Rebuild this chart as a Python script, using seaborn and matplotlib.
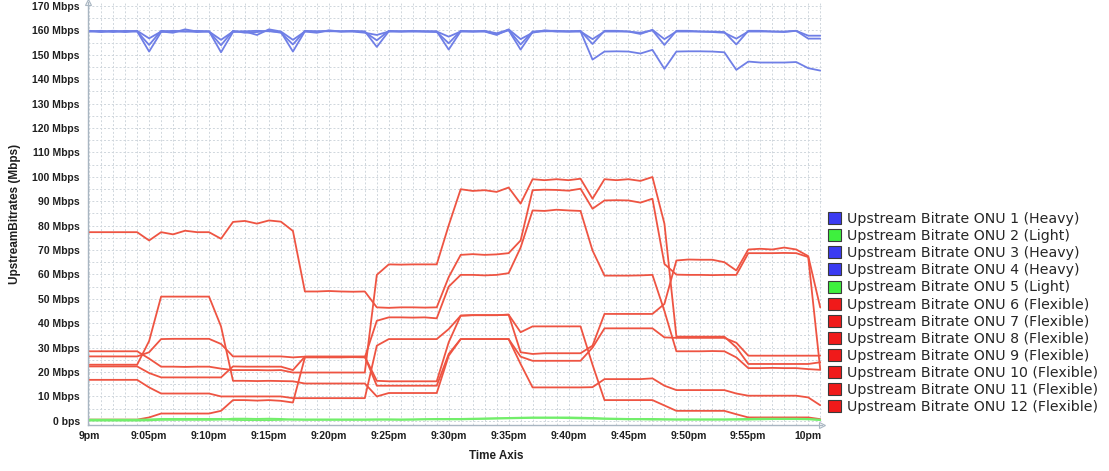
import numpy as np
import pandas as pd
import matplotlib
matplotlib.use("Agg")
import matplotlib.pyplot as plt
from matplotlib.patches import Patch
from matplotlib.ticker import MultipleLocator
import seaborn as sns


# ── data: one sample per minute after 9pm ─────────────────────────────────────

minutes = list(range(62))

tick_minutes = [0, 5, 10, 15, 20, 25, 30, 35, 40, 45, 50, 55, 60]
tick_labels = ["9pm", "9:05pm", "9:10pm", "9:15pm", "9:20pm", "9:25pm", "9:30pm",
               "9:35pm", "9:40pm", "9:45pm", "9:50pm", "9:55pm", "10pm"]

# Heavy ONUs
onu1 = [159.8, 159.5, 159.8, 159.5, 159.8, 156.7, 159.5, 159.0, 160.4, 159.5,
        159.5, 156.1, 159.5, 159.5, 158.1, 160.4, 159.5, 156.1, 159.5, 159.0,
        160.0, 159.5, 159.5, 159.0, 158.1, 159.5, 159.5, 159.5, 159.5, 159.5,
        157.4, 159.5, 159.5, 159.5, 158.1, 160.4, 156.4, 159.0, 160.0, 159.5,
        159.5, 159.5, 156.4, 159.5, 159.5, 159.5, 158.5, 160.2, 156.4, 159.5,
        159.5, 159.5, 159.3, 159.0, 156.6, 159.5, 159.5, 159.5, 159.3, 159.8,
        157.8, 157.8]
onu3 = [159.5, 159.8, 159.3, 159.8, 159.5, 154.0, 159.8, 159.5, 159.5, 159.8,
        159.5, 153.9, 159.8, 159.0, 159.3, 159.8, 159.0, 154.2, 159.8, 159.5,
        159.8, 159.5, 159.8, 159.3, 155.9, 159.8, 159.5, 159.8, 159.5, 159.3,
        154.7, 159.8, 159.5, 159.8, 158.8, 160.2, 154.2, 159.5, 159.8, 159.8,
        159.5, 159.8, 154.4, 159.8, 159.8, 159.5, 159.0, 160.0, 154.0, 159.8,
        159.8, 159.5, 159.5, 159.3, 154.2, 159.8, 159.8, 159.5, 159.5, 159.8,
        156.6, 156.6]
onu4 = [159.6, 159.3, 159.6, 159.3, 159.6, 151.3, 159.3, 159.8, 159.6, 159.3,
        159.6, 151.0, 159.3, 159.6, 159.8, 159.6, 159.3, 151.3, 159.6, 159.6,
        159.6, 159.6, 159.6, 159.6, 153.2, 159.6, 159.6, 159.6, 159.6, 159.6,
        152.1, 159.6, 159.6, 159.6, 158.4, 160.0, 152.1, 159.3, 159.6, 159.6,
        159.6, 159.6, 148.0, 151.3, 151.4, 151.3, 150.5, 152.0, 144.2, 151.3,
        151.4, 151.4, 151.3, 151.0, 143.8, 147.2, 146.8, 146.8, 146.8, 147.0,
        144.5, 143.5]

# Light ONUs
onu2 = [0.5, 0.5, 0.5, 0.5, 0.5, 0.6, 0.8, 0.8, 0.8, 0.8,
        0.8, 0.8, 0.4, 0.3, 0.3, 0.3, 0.4, 0.6, 0.6, 0.6,
        0.6, 0.6, 0.6, 0.6, 0.6, 0.6, 0.6, 0.6, 0.7, 0.8,
        0.8, 0.8, 0.9, 1.0, 1.1, 1.2, 1.3, 1.4, 1.4, 1.4,
        1.4, 1.3, 1.2, 1.0, 0.9, 0.8, 0.8, 0.8, 0.7, 0.6,
        0.6, 0.6, 0.6, 0.6, 0.7, 0.8, 0.9, 0.9, 0.9, 0.9,
        0.8, 0.5]
onu5 = [0.1, 0.1, 0.1, 0.1, 0.1, 0.2, 0.4, 0.4, 0.4, 0.4,
        0.4, 0.5, 0.9, 0.9, 0.8, 0.9, 0.8, 0.5, 0.4, 0.4,
        0.4, 0.4, 0.4, 0.4, 0.5, 0.5, 0.4, 0.5, 0.6, 0.6,
        0.6, 0.6, 0.7, 0.8, 0.9, 1.0, 1.1, 1.2, 1.2, 1.2,
        1.1, 1.0, 0.9, 0.8, 0.7, 0.6, 0.6, 0.5, 0.5, 0.5,
        0.5, 0.5, 0.5, 0.5, 0.5, 0.5, 0.6, 0.7, 0.7, 0.7,
        0.6, 0.3]

# Flexible ONUs
onu6 = [0.5, 0.5, 0.5, 0.5, 0.5, 1.4, 3.0, 3.0, 3.0, 3.0,
        3.0, 4.1, 8.5, 8.5, 8.3, 8.5, 8.2, 7.5, 26.0, 26.0,
        26.0, 26.0, 26.1, 26.0, 41.0, 42.4, 42.4, 42.3, 42.4, 42.0,
        55.0, 59.8, 59.8, 59.6, 59.8, 60.5, 71.0, 86.2, 86.0, 86.5,
        86.2, 86.0, 69.8, 59.5, 59.5, 59.5, 59.6, 59.8, 45.0, 28.5,
        28.5, 28.5, 28.6, 28.5, 26.0, 21.6, 21.6, 21.7, 21.6, 21.6,
        21.2, 20.9]
onu7 = [77.3, 77.3, 77.3, 77.3, 77.3, 73.9, 77.3, 76.4, 77.9, 77.3,
        77.3, 74.6, 81.5, 81.9, 80.8, 82.1, 81.6, 77.8, 53.0, 53.0,
        53.2, 53.0, 52.9, 53.0, 46.5, 46.3, 46.5, 46.5, 46.4, 46.5,
        58.9, 68.0, 68.3, 68.0, 68.2, 68.7, 73.9, 94.5, 94.7, 94.6,
        94.3, 95.1, 86.9, 90.3, 90.4, 90.3, 89.4, 91.0, 64.3, 59.9,
        59.8, 59.8, 59.7, 59.8, 59.8, 68.7, 68.7, 68.7, 68.8, 68.7,
        67.1, 21.2]
onu8 = [28.5, 28.5, 28.5, 28.5, 28.5, 25.5, 22.2, 22.2, 22.1, 22.2,
        22.2, 21.4, 20.8, 20.8, 20.8, 20.7, 20.8, 19.8, 19.8, 19.8,
        19.8, 19.8, 19.8, 19.8, 59.8, 64.1, 64.0, 64.1, 64.1, 64.1,
        80.1, 94.9, 94.2, 94.5, 93.8, 95.6, 89.0, 99.0, 98.6, 99.0,
        98.6, 99.2, 91.0, 99.0, 98.6, 99.0, 98.3, 99.9, 80.8, 34.5,
        34.5, 34.5, 34.5, 34.5, 30.1, 23.3, 23.3, 23.3, 23.3, 23.3,
        23.3, 24.0]
onu9 = [22.3, 22.3, 22.3, 22.3, 22.3, 19.6, 17.8, 17.8, 17.8, 17.8,
        17.8, 17.8, 22.3, 22.2, 22.2, 22.2, 22.2, 20.8, 26.3, 26.3,
        26.3, 26.3, 26.3, 26.3, 14.4, 14.4, 14.4, 14.4, 14.4, 14.4,
        27.4, 33.5, 33.5, 33.5, 33.5, 33.5, 26.3, 24.6, 24.6, 24.6,
        24.6, 24.6, 30.0, 37.9, 37.9, 37.9, 37.9, 37.9, 34.2, 34.0,
        34.0, 34.0, 34.0, 34.0, 32.0, 26.7, 26.7, 26.7, 26.7, 26.7,
        26.7, 26.7]
onu10 = [23.0, 23.0, 23.0, 23.0, 23.0, 32.7, 50.9, 50.9, 50.9, 50.9,
         50.9, 38.7, 16.4, 16.4, 16.3, 16.4, 16.3, 16.2, 15.3, 15.3,
         15.3, 15.3, 15.3, 15.3, 10.0, 11.4, 11.4, 11.4, 11.4, 11.4,
         26.7, 33.5, 33.5, 33.5, 33.5, 33.5, 23.3, 13.7, 13.7, 13.7,
         13.7, 13.7, 13.8, 17.1, 17.1, 17.1, 17.1, 17.4, 14.4, 12.6,
         12.6, 12.6, 12.6, 12.6, 11.2, 10.3, 10.3, 10.3, 10.3, 10.3,
         9.6, 6.4]
onu11 = [26.4, 26.4, 26.4, 26.4, 26.4, 28.1, 33.5, 33.6, 33.6, 33.6,
         33.6, 31.5, 26.4, 26.4, 26.4, 26.4, 26.4, 26.0, 26.3, 26.3,
         26.3, 26.3, 26.3, 26.3, 16.4, 16.2, 16.2, 16.2, 16.2, 16.2,
         32.2, 43.1, 43.3, 43.3, 43.3, 43.5, 28.1, 27.4, 27.7, 27.7,
         27.7, 27.7, 30.8, 43.8, 43.8, 43.8, 43.8, 43.8, 47.9, 65.7,
         66.1, 66.0, 66.0, 65.0, 61.6, 70.2, 70.5, 70.2, 71.0, 70.2,
         67.5, 46.5]
onu12 = [16.8, 16.8, 16.8, 16.8, 16.8, 13.7, 11.2, 11.2, 11.2, 11.2,
         11.2, 10.0, 10.0, 10.0, 10.0, 10.0, 10.0, 9.3, 9.3, 9.3,
         9.3, 9.3, 9.3, 9.3, 30.8, 33.5, 33.5, 33.5, 33.5, 33.5,
         37.6, 43.1, 43.3, 43.3, 43.3, 43.5, 36.3, 38.7, 38.7, 38.7,
         38.7, 38.7, 23.0, 8.5, 8.5, 8.5, 8.5, 8.5, 6.3, 4.1,
         4.1, 4.1, 4.1, 4.1, 2.7, 1.4, 1.4, 1.4, 1.4, 1.4,
         1.4, 0.7]

onu_names = ["Upstream Bitrate ONU 1 (Heavy)", "Upstream Bitrate ONU 2 (Light)",
             "Upstream Bitrate ONU 3 (Heavy)", "Upstream Bitrate ONU 4 (Heavy)",
             "Upstream Bitrate ONU 5 (Light)", "Upstream Bitrate ONU 6 (Flexible)",
             "Upstream Bitrate ONU 7 (Flexible)", "Upstream Bitrate ONU 8 (Flexible)",
             "Upstream Bitrate ONU 9 (Flexible)", "Upstream Bitrate ONU 10 (Flexible)",
             "Upstream Bitrate ONU 11 (Flexible)", "Upstream Bitrate ONU 12 (Flexible)"]
onu_kinds = ["Heavy", "Light", "Heavy", "Heavy", "Light", "Flexible", "Flexible",
             "Flexible", "Flexible", "Flexible", "Flexible", "Flexible"]
onu_series = [onu1, onu2, onu3, onu4, onu5, onu6, onu7, onu8, onu9, onu10, onu11, onu12]

LINE_COLORS = {"Heavy": "#6f7fe6", "Light": "#72ee6a", "Flexible": "#ee5442"}
PATCH_COLORS = {"Heavy": "#3b3bf2", "Light": "#3ef03e", "Flexible": "#f01a1a"}

# ── long-form table ───────────────────────────────────────────────────────────

rows = []
for name, kind, vals in zip(onu_names, onu_kinds, onu_series):
    for m, v in zip(minutes, vals):
        rows.append({"minute": m, "mbps": v, "onu": name, "kind": kind})
df = pd.DataFrame(rows)

# ── plot ──────────────────────────────────────────────────────────────────────

sns.set_style("white")
plt.rcParams["font.family"] = ["DejaVu Sans"]

fig = plt.figure(figsize=(11.09, 4.71), dpi=100)
ax = fig.add_axes([88 / 1109, 46 / 471, 734 / 1109, 423 / 471])

palette = {n: LINE_COLORS[k] for n, k in zip(onu_names, onu_kinds)}
draw_order = onu_names[5:] + [onu_names[0], onu_names[2], onu_names[3],
                              onu_names[1], onu_names[4]]
for name in draw_order:
    sns.lineplot(data=df[df["onu"] == name], x="minute", y="mbps", color=palette[name],
                 linewidth=1.3, estimator=None, sort=False, legend=False, ax=ax)

ax.set_xlim(-0.1, 61.15)
ax.set_ylim(-1.7, 171.6)

ax.set_yticks(np.arange(0, 171, 10))
ax.set_yticklabels(["0 bps"] + [f"{v} Mbps" for v in range(10, 171, 10)])
ax.set_xticks(tick_minutes)
ax.set_xticklabels(tick_labels)
ax.xaxis.set_minor_locator(MultipleLocator(1))
ax.yaxis.set_minor_locator(MultipleLocator(5))

for lab in ax.get_xticklabels() + ax.get_yticklabels():
    lab.set_fontfamily("Liberation Sans")
    lab.set_fontweight("bold")
    lab.set_fontsize(7.5)
    lab.set_color("#1f1f1f")
ax.tick_params(axis="both", which="both", length=0)
ax.tick_params(axis="y", pad=6)
ax.tick_params(axis="x", pad=4)

ax.grid(which="both", color="#cfd6dc", linestyle=(0, (2, 2)), linewidth=0.7)
ax.set_axisbelow(True)

for side in ["top", "right"]:
    ax.spines[side].set_visible(False)
for side in ["left", "bottom"]:
    ax.spines[side].set_color("#a9b6c2")
    ax.spines[side].set_linewidth(1.0)
ax.plot(0, 1, marker="^", ms=5, mfc="white", mec="#a9b6c2", mew=0.8,
        transform=ax.transAxes, clip_on=False)
ax.plot(1, 0, marker=">", ms=5, mfc="white", mec="#a9b6c2", mew=0.8,
        transform=ax.transAxes, clip_on=False)

ax.set_xlabel("")
ax.set_ylabel("UpstreamBitrates (Mbps)", fontfamily="Liberation Sans",
              fontweight="bold", fontsize=8.5, color="#1f1f1f", labelpad=8)
fig.text(496 / 1109, 1 - 456 / 471, "Time Axis", ha="center", va="center",
         fontfamily="Liberation Sans", fontweight="bold", fontsize=8.4, color="#1f1f1f")

handles = [Patch(facecolor=PATCH_COLORS[k], edgecolor="#3a3a3a", linewidth=0.8)
           for k in onu_kinds]
fig.legend(handles, onu_names, loc="upper left", bbox_to_anchor=(828 / 1109, 1 - 212 / 471),
           frameon=False, fontsize=10.2, handlelength=0.93, handleheight=0.93,
           handletextpad=0.4, labelspacing=0.22, borderpad=0, borderaxespad=0)

plt.savefig("out.png", dpi=100)
plt.close()
